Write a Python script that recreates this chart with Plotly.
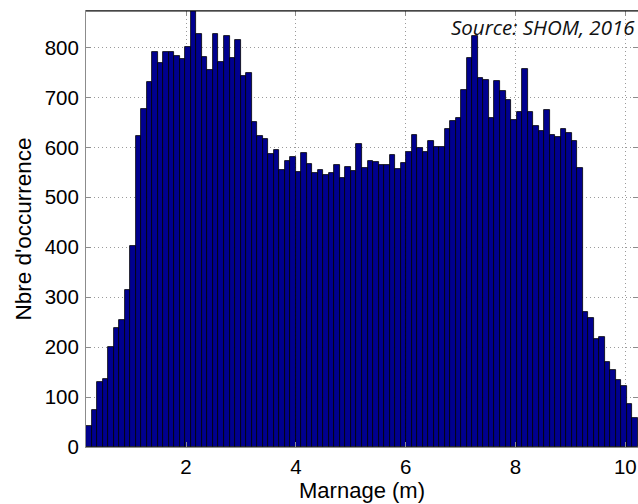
import plotly.graph_objects as go

# Histogram of tidal range (100 bins between min and max)
marnage_min = 0.178
marnage_max = 10.23
n_bins = 100

occurrences = [
    42, 75, 131, 137, 201, 238, 255, 314, 403, 623,
    677, 731, 791, 769, 791, 791, 782, 777, 801, 875,
    827, 781, 755, 827, 770, 822, 778, 814, 742, 748,
    650, 623, 617, 586, 595, 555, 573, 580, 550, 588,
    567, 549, 554, 545, 549, 564, 539, 560, 552, 606,
    558, 572, 570, 564, 564, 585, 557, 569, 591, 624,
    599, 591, 612, 601, 601, 637, 653, 659, 715, 778,
    823, 739, 735, 658, 732, 713, 694, 655, 670, 757,
    670, 642, 632, 674, 624, 620, 637, 629, 612, 558,
    271, 259, 216, 220, 170, 154, 134, 122, 86, 59,
]

x_ticks = [2, 4, 6, 8, 10]
y_ticks = [0, 100, 200, 300, 400, 500, 600, 700, 800]
y_max = 873

bin_w = (marnage_max - marnage_min) / n_bins
centers = [marnage_min + (i + 0.5) * bin_w for i in range(n_bins)]

fig = go.Figure()
fig.add_trace(go.Bar(
    x=centers, y=occurrences, width=bin_w,
    marker=dict(color="#00008F", line=dict(color="#000000", width=0.8)),
    showlegend=False,
))

axis_common = dict(
    showline=True, linecolor="#8c8c8c", linewidth=1, mirror="allticks",
    ticks="inside", ticklen=5, tickcolor="#8c8c8c",
    showgrid=True, gridcolor="#9a9a9a", griddash="1px,3px", gridwidth=1,
    zeroline=False,
    tickfont=dict(family="Liberation Sans, Arial", size=20.5, color="#000000"),
)

fig.update_layout(
    width=638, height=504,
    margin=dict(l=86, r=0, t=11, b=57),
    paper_bgcolor="white", plot_bgcolor="white",
    bargap=0,
    xaxis=dict(
        range=[marnage_min, marnage_max],
        tickvals=x_ticks,
        ticklabelstandoff=1,
        title=dict(text="Marnage (m)", standoff=2,
                   font=dict(family="Liberation Sans, Arial", size=22, color="#000000")),
        **axis_common,
    ),
    yaxis=dict(
        range=[0, y_max],
        tickvals=y_ticks,
        ticklabelstandoff=2,
        title=dict(text="Nbre d'occurrence", standoff=6,
                   font=dict(family="Liberation Sans, Arial", size=22.5, color="#000000")),
        **axis_common,
    ),
    shapes=[dict(type="line", xref="paper", yref="paper", x0=0, x1=1, y0=1, y1=1,
                 line=dict(color="#000000", width=1.2))],
    annotations=[dict(
        text="Source: SHOM, 2016", xref="paper", yref="paper",
        x=0.998, y=1.0, xanchor="right", yanchor="top", showarrow=False,
        font=dict(family="Open Sans", size=20.5, color="#111111", style="italic"),
    )],
)

fig.write_html("out.html")
